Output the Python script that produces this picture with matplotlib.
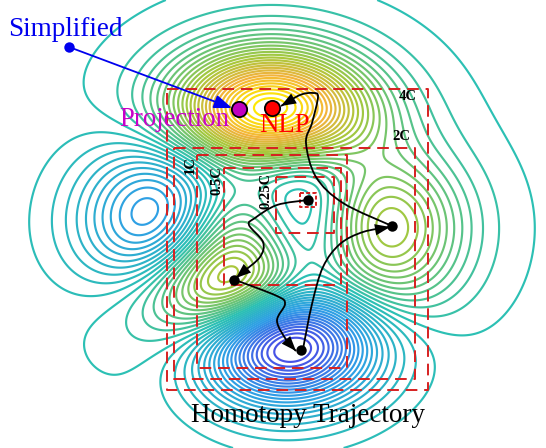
import numpy as np
import matplotlib
matplotlib.use("Agg")
import matplotlib.pyplot as plt
from matplotlib.colors import LinearSegmentedColormap
from matplotlib.path import Path
from matplotlib.patches import PathPatch, FancyArrowPatch

plt.rcParams['font.family'] = ['Liberation Serif', 'DejaVu Sans']

# surface terms (looks like the matlab peaks surface), picture px per unit
px_origin = (271.3, 227.0)
px_per_unit = (93.6, 75.4)
# ring spacing worked out from the rings along the top and left of the picture
ring_base = 0.08
ring_step = 0.299
rings_below = 21
rings_above = 26
level_colors = ["#4a4ae6", "#2f9fe6", "#2cc0b4", "#a6c83c", "#f2b23c", "#ffee00"]
level_stops = [0.0, 0.24, 0.45, 0.69, 0.84, 1.0]

# dashed boxes: left, top, right, bottom (picture px)
boxes = {
    "4C": (167, 89, 428, 390),
    "2C": (174, 148, 415, 379),
    "1C": (197, 155, 347, 368),
    "0.5C": (224, 168, 341, 285),
    "0.25C": (276, 177, 334, 233),
    "small": (300, 193, 316, 207),
}
box_labels = ["4C", "2C", "1C", "0.5C", "0.25C"]
box_label_x = [408, 401, 190, 217, 266]
box_label_y = [97, 137, 165, 181, 191]
box_label_rot = [0, 0, 90, 90, 90]

# trajectory pieces, picture px
leg1_x = [392, 343, 316, 306, 312, 318, 313, 300, 281]
leg1_y = [226, 203, 177, 143, 123, 97, 93, 95, 106]
leg2_x = [308, 277, 255, 249, 263, 260, 243, 236]
leg2_y = [200, 205, 218, 225, 242, 257, 272, 278]
leg3_x = [238, 277, 285, 277, 287, 296]
leg3_y = [281, 296, 304, 321, 341, 351]
leg4_x = [303, 312, 323, 340, 363, 390]
leg4_y = [349, 304, 267, 244, 232, 227]
stop_x = [392, 308, 234, 301]
stop_y = [226, 200, 280, 350]
head = "-|>,head_length=0.45,head_width=0.17"


def surface(x, y):
    return (3 * (1 - x) ** 2 * np.exp(-x ** 2 - (y + 1) ** 2)
            - 10 * (x / 5 - x ** 3 - y ** 5) * np.exp(-x ** 2 - y ** 2)
            - np.exp(-(x + 1) ** 2 - y ** 2) / 3)


def smooth(xs, ys):
    # catmull-rom through the read points
    pts = np.column_stack([xs, ys]).astype(float)
    verts = [pts[0]]
    codes = [Path.MOVETO]
    for i in range(len(pts) - 1):
        p0 = pts[max(i - 1, 0)]
        p1 = pts[i]
        p2 = pts[i + 1]
        p3 = pts[min(i + 2, len(pts) - 1)]
        verts += [p1 + (p2 - p0) / 6, p2 - (p3 - p1) / 6, p2]
        codes += [Path.CURVE4] * 3
    return Path(verts, codes)


fig = plt.figure(figsize=(5.46, 4.48), dpi=100)
ax = fig.add_axes([0, 0, 1, 1])

px, py = np.meshgrid(np.linspace(0, 546, 1100), np.linspace(0, 448, 900))
z = surface((px - px_origin[0]) / px_per_unit[0], (px_origin[1] - py) / px_per_unit[1])
cmap = LinearSegmentedColormap.from_list("rings", list(zip(level_stops, level_colors)))
levels = ring_base + ring_step * np.arange(-rings_below, rings_above + 1)
ax.contour(px, py, z, levels=levels, cmap=cmap, vmin=-6.55, vmax=8.1, linewidths=1.55)

for name, (l, t, r, b) in boxes.items():
    ax.plot([l, r, r, l, l], [t, t, b, b, t], color="#d62020", lw=1.4,
            dashes=(6, 3.5) if name != "small" else (2, 1.2))

for lab, x, y, rot in zip(box_labels, box_label_x, box_label_y, box_label_rot):
    ax.text(x, y, lab, fontsize=10.5, fontweight="bold", rotation=rot,
            ha="center", va="center", color="black")

# simplified -> projection
ax.add_patch(FancyArrowPatch((69, 47), (232, 108), arrowstyle=head, mutation_scale=24,
                             color="#0000ee", lw=1.3, shrinkA=0, shrinkB=0, zorder=5))
ax.plot([69], [47], "o", color="#0000ee", ms=7.5, mec="none", zorder=6)
ax.plot([239], [109], "o", color="#c000c0", ms=11, mec="black", mew=1.3, zorder=6)
ax.plot([272], [108], "o", color="#ff0000", ms=11, mec="black", mew=1.3, zorder=6)

for xs, ys in [(leg1_x, leg1_y), (leg2_x, leg2_y), (leg3_x, leg3_y), (leg4_x, leg4_y)]:
    ax.add_patch(PathPatch(smooth(xs, ys), fc="none", ec="black", lw=1.3, zorder=5))
    # start the head well behind the tip so it keeps the direction of the last piece
    back_x = xs[-1] - 5 * (xs[-1] - xs[-2])
    back_y = ys[-1] - 5 * (ys[-1] - ys[-2])
    ax.add_patch(FancyArrowPatch((back_x, back_y), (xs[-1], ys[-1]), arrowstyle=head,
                                 mutation_scale=24, color="black", lw=0, shrinkA=0,
                                 shrinkB=0, zorder=6))
ax.plot(stop_x, stop_y, "o", color="black", ms=7.5, mec="none", zorder=7)

ax.text(8, 30, "Simplified", fontsize=19.5, color="#0000ee", va="center")
ax.text(119, 120, "Projection", fontsize=19.3, color="#c800c8", va="center")
ax.text(259, 126, "NLP", fontsize=19.3, color="#ff0000", va="center")
ax.text(191, 416, "Homotopy Trajectory", fontsize=19.5, color="black", va="center")

ax.set_xlim(0, 546)
ax.set_ylim(448, 0)
ax.axis("off")
fig.savefig("out.png", dpi=100)
